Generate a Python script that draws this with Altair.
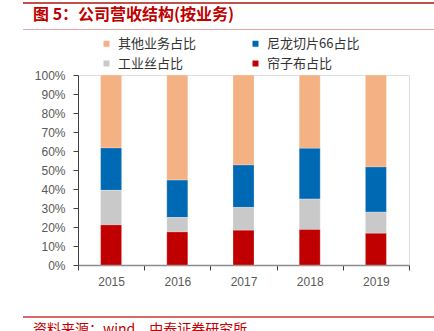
import altair as alt
import pandas as pd

years = ["2015", "2016", "2017", "2018", "2019"]
series = ["其他业务占比", "尼龙切片66占比", "工业丝占比", "帘子布占比"]
colors = ["#F4B183", "#0069B4", "#C9C9C9", "#C00000"]
stack_order = [3, 2, 1, 0]
other = [38.4, 55.3, 47.4, 38.6, 48.4]
nylon = [22.3, 19.7, 22.3, 26.7, 23.8]
yarn = [18.2, 7.6, 12.0, 16.0, 11.1]
cord = [21.1, 17.4, 18.3, 18.7, 16.7]

title_text = "图 5：公司营收结构(按业务)"
source_text = "资料来源：wind，中泰证券研究所"

vals = [other, nylon, yarn, cord]
rows = []
for s, o, v in zip(series, stack_order, vals):
    for y, x in zip(years, v):
        rows.append({"year": y, "series": s, "order": o, "value": x / 100})
df = pd.DataFrame(rows)

# legend is laid out column by column, so list the domain in that order
legend_domain = [series[0], series[2], series[1], series[3]]
legend_range = [colors[0], colors[2], colors[1], colors[3]]

bars = alt.Chart(df).mark_bar(size=21, stroke="#ffffff", strokeWidth=0.4, strokeOpacity=0.6).encode(
    x=alt.X("year:N", title=None,
            scale=alt.Scale(paddingInner=0, paddingOuter=0),
            axis=alt.Axis(labelAngle=0, tickBand="extent", domainColor="#8C8C8C", domainWidth=1.5,
                          tickColor="#404040", tickSize=5, labelColor="#595959",
                          labelFont="Liberation Sans", labelFontSize=12, labelPadding=6)),
    y=alt.Y("value:Q", title=None, stack="zero",
            scale=alt.Scale(domain=[0, 1], nice=False),
            axis=alt.Axis(format=".0%", values=[i / 10 for i in range(11)], grid=False,
                          domainColor="#404040", tickColor="#404040", tickSize=5,
                          labelColor="#595959", labelFont="Liberation Sans",
                          labelFontSize=12, labelPadding=8)),
    color=alt.Color("series:N",
                    scale=alt.Scale(domain=legend_domain, range=legend_range),
                    legend=alt.Legend(title=None, orient="none", legendX=22, legendY=-38,
                                      columns=2, columnPadding=52, rowPadding=6,
                                      symbolType="square", symbolSize=36, symbolStrokeWidth=0,
                                      labelFont="Noto Sans CJK SC", labelFontSize=13,
                                      labelColor="#333333", labelOffset=5)),
    order=alt.Order("order:Q", sort="ascending"),
)

top_line = alt.Chart(df).mark_rule(color="#C0504D", strokeWidth=2).encode(
    x=alt.value(-55), x2=alt.value(356), y=alt.value(-72))
title_line = alt.Chart(df).mark_rule(color="#E8A8A8", strokeWidth=1.2).encode(
    x=alt.value(-55), x2=alt.value(356), y=alt.value(-45.5))
foot_line = alt.Chart(df).mark_rule(color="#D46A6A", strokeWidth=1).encode(
    x=alt.value(-55), x2=alt.value(356), y=alt.value(242))

title = alt.Chart(pd.DataFrame({"t": [title_text]})).mark_text(
    align="left", baseline="middle", font="Noto Sans CJK SC", fontSize=16,
    fontWeight="bold", color="#C00000").encode(
    text="t:N", x=alt.value(-45), y=alt.value(-60))
source = alt.Chart(pd.DataFrame({"t": [source_text]})).mark_text(
    align="left", baseline="top", font="Noto Sans CJK SC", fontSize=14,
    color="#C00000").encode(
    text="t:N", x=alt.value(-45), y=alt.value(248))

chart = alt.layer(bars, top_line, title_line, foot_line, title, source).properties(
    width=331, height=190,
    padding={"left": 78, "top": 75, "right": 25, "bottom": 66},
    autosize=alt.AutoSizeParams(type="none"),
).configure_view(stroke=None).configure(background="white")

chart.save("out.html", embed_options={"renderer": "svg", "actions": False})
